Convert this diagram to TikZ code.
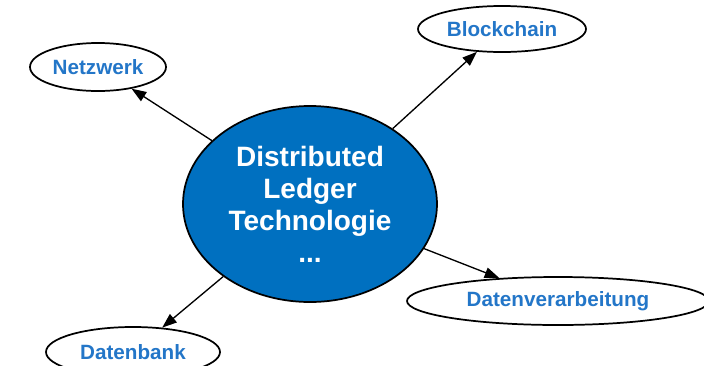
\documentclass[tikz,border=0pt]{standalone}
\usepackage{fontspec}
\setmainfont{Liberation Sans}
\usetikzlibrary{shapes.geometric,arrows.meta}
\definecolor{dltblue}{RGB}{0,112,192}
\definecolor{labelblue}{RGB}{35,118,200}
\tikzset{
    topic/.style={ellipse,draw,line width=1.3pt,fill=white,text=labelblue,inner sep=0pt,font=\bfseries\fontsize{15.5}{18}\selectfont},
    link/.style={line width=1pt,-{Triangle[length=11pt,width=8pt]}}
}
\begin{document}
\begin{tikzpicture}[x=0.75pt,y=0.75pt,yscale=-1,xscale=1]
                \useasboundingbox (0,0) rectangle (704,365);
                \draw (310,204) node [ellipse,draw,line width=1.3pt,fill=dltblue,text=white,inner sep=0pt,minimum width=190.5pt,minimum height=147pt,align=center,font=\bfseries\fontsize{21}{24}\selectfont] (dlt) {Distributed\\Ledger\\Technologie\\...};
                \draw (98,67) node [topic,minimum width=102pt,minimum height=36pt] (netz) {Netzwerk};
                \draw (502,29) node [topic,minimum width=126pt,minimum height=34.5pt] (block) {Blockchain};
                \draw (133,352) node [topic,minimum width=130.5pt,minimum height=37.5pt] (db) {Datenbank};
                \draw (558,301) node [topic,minimum width=226.5pt,minimum height=36pt] (dv) {Datenverarbeitung};
                \draw [link] (dlt) -- (netz) ;
                \draw [link] (dlt) -- (block) ;
                \draw [link] (dlt) -- (db) ;
                \draw [link] (dlt) -- (dv) ;
\end{tikzpicture}
\end{document}
